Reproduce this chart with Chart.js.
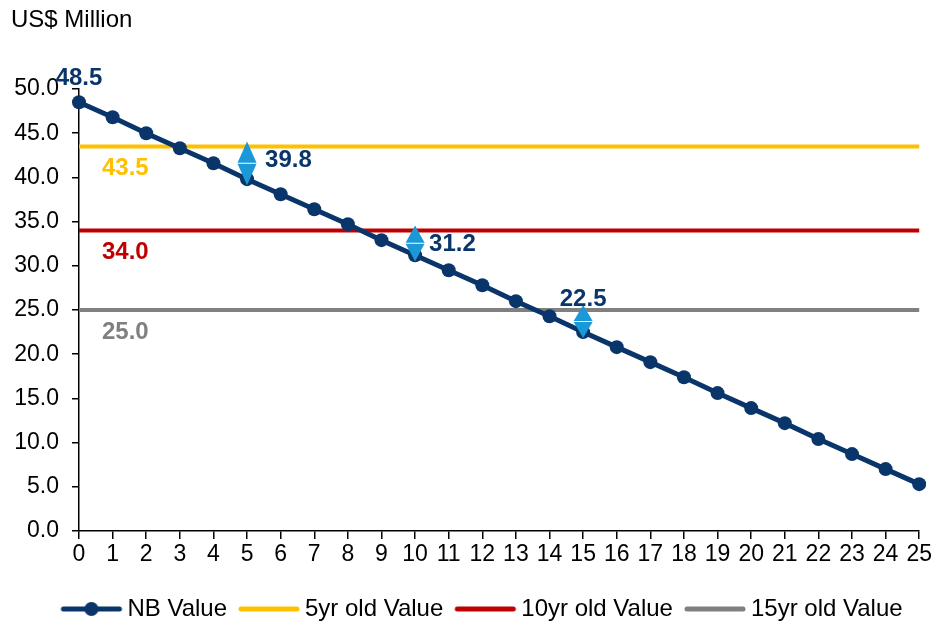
<!DOCTYPE html>
<html lang="en">
<head>
    <meta charset="UTF-8">
    <title>NB Value vs used aircraft value</title>
    <script src="https://cdn.jsdelivr.net/npm/chart.js"></script>
    <style>
        html, body { margin: 0; padding: 0; background: #fff; }
        #wrap { width: 934px; height: 621px; }
    </style>
</head>
<body>
    <div id="wrap"><canvas id="valueChart" width="934" height="621"></canvas></div>
    <script>
        // Years of age on the x axis
        const years = ['0', '1', '2', '3', '4', '5', '6', '7', '8', '9', '10', '11', '12',
            '13', '14', '15', '16', '17', '18', '19', '20', '21', '22', '23', '24', '25'];
        // New-build value declining with age (US$ million)
        const nbValue = [48.5, 46.8, 45.0, 43.3, 41.6, 39.8, 38.1, 36.4, 34.7, 32.9, 31.2, 29.5, 27.8,
            26.0, 24.3, 22.5, 20.8, 19.1, 17.4, 15.6, 13.9, 12.2, 10.4, 8.7, 7.0, 5.3];
        // Market values of used aircraft
        const usedNames = ['5yr old Value', '10yr old Value', '15yr old Value'];
        const usedValues = [43.5, 34.0, 25.0];
        const usedAges = [5, 10, 15];
        const yTicks = [0, 5, 10, 15, 20, 25, 30, 35, 40, 45, 50];

        const navy = '#0a356a';
        const usedColors = ['#ffc000', '#c00000', '#808080'];
        const arrowBlue = '#1b98d8';
        const font = '"Liberation Sans", Arial, sans-serif';

        // small legend swatches: a line, with a dot for the NB series
        function swatch(color, dot) {
            const c = document.createElement('canvas');
            c.width = 68; c.height = 16;
            const g = c.getContext('2d');
            g.strokeStyle = color;
            g.lineWidth = 5;
            g.lineCap = 'round';
            g.beginPath(); g.moveTo(6, 8); g.lineTo(62, 8); g.stroke();
            if (dot) {
                g.fillStyle = color;
                g.beginPath(); g.arc(34, 8, 7, 0, Math.PI * 2); g.fill();
            }
            return c;
        }

        const datasets = [{
            label: 'NB Value',
            data: nbValue,
            borderColor: navy,
            backgroundColor: navy,
            borderWidth: 5,
            pointRadius: 7,
            pointHoverRadius: 7,
            pointBackgroundColor: navy,
            pointBorderWidth: 0,
            tension: 0,
            order: 0,
            legendSwatch: swatch(navy, true)
        }];
        usedNames.forEach(function(name, i) {
            datasets.push({
                label: name,
                data: years.map(function() { return usedValues[i]; }),
                borderColor: usedColors[i],
                backgroundColor: usedColors[i],
                borderWidth: 4,
                pointRadius: 0,
                order: 1,
                legendSwatch: swatch(usedColors[i], false)
            });
        });

        // arrows between the used value and the NB value, plus value labels
        const annotations = {
            id: 'annotations',
            afterLayout(chart) {
                // nudge the legend row a little to the right
                if (chart.legend) {
                    chart.legend.left += 24;
                    chart.legend.right += 24;
                }
            },
            afterDatasetsDraw(chart) {
                const ctx = chart.ctx;
                const xs = chart.scales.x, ys = chart.scales.y;
                ctx.save();
                usedAges.forEach(function(age, i) {
                    const x = xs.getPixelForValue(age);
                    const top = ys.getPixelForValue(usedValues[i]) - 5;
                    const bottom = ys.getPixelForValue(nbValue[age]) + 6;
                    const mid = (top + bottom) / 2;
                    ctx.fillStyle = arrowBlue;
                    ctx.beginPath();
                    ctx.moveTo(x, top); ctx.lineTo(x + 9.5, mid - 0.5); ctx.lineTo(x - 9.5, mid - 0.5);
                    ctx.closePath(); ctx.fill();
                    ctx.beginPath();
                    ctx.moveTo(x, bottom); ctx.lineTo(x + 9.5, mid + 0.5); ctx.lineTo(x - 9.5, mid + 0.5);
                    ctx.closePath(); ctx.fill();
                });

                ctx.font = 'bold 24px ' + font;
                ctx.textBaseline = 'middle';
                // NB value labels
                ctx.fillStyle = navy;
                const px = function(i) { return xs.getPixelForValue(i); };
                const py = function(i) { return ys.getPixelForValue(nbValue[i]); };
                ctx.textAlign = 'center';
                ctx.fillText(nbValue[0].toFixed(1), px(0), py(0) - 24);
                ctx.textAlign = 'left';
                ctx.fillText(nbValue[5].toFixed(1), px(5) + 18, py(5) - 19);
                ctx.fillText(nbValue[10].toFixed(1), px(10) + 14, py(10) - 11);
                ctx.textAlign = 'center';
                ctx.fillText(nbValue[15].toFixed(1), px(15), py(15) - 33);

                // used value labels under each line
                ctx.textAlign = 'left';
                usedValues.forEach(function(v, i) {
                    ctx.fillStyle = usedColors[i];
                    ctx.fillText(v.toFixed(1), chart.chartArea.left + 23, ys.getPixelForValue(v) + 22);
                });

                // unit caption
                ctx.fillStyle = '#000';
                ctx.font = '24px ' + font;
                ctx.fillText('US$ Million', 11, 20);
                ctx.restore();
            }
        };

        new Chart(document.getElementById('valueChart'), {
            type: 'line',
            data: { labels: years, datasets: datasets },
            options: {
                responsive: false,
                animation: false,
                layout: { padding: { top: 89, right: 12, left: 0, bottom: -10 } },
                plugins: {
                    tooltip: { enabled: false },
                    legend: {
                        position: 'bottom',
                        labels: {
                            usePointStyle: true,
                            pointStyleWidth: 48,
                            padding: 18,
                            color: '#000',
                            font: { family: font, size: 24 },
                            generateLabels(chart) {
                                return chart.data.datasets.map(function(ds, i) {
                                    return {
                                        text: ds.label,
                                        datasetIndex: i,
                                        pointStyle: ds.legendSwatch,
                                        fontColor: '#000',
                                        lineWidth: 0,
                                        hidden: false
                                    };
                                });
                            }
                        }
                    }
                },
                scales: {
                    x: {
                        type: 'category',
                        offset: false,
                        border: { color: '#000', width: 1.5 },
                        grid: { drawOnChartArea: false, drawTicks: true, tickLength: 8, color: '#000', lineWidth: 1.5 },
                        ticks: { color: '#000', font: { family: font, size: 23 }, padding: 2, maxRotation: 0, autoSkip: false },
                        afterFit(scale) { scale.height = 48; }
                    },
                    y: {
                        min: 0,
                        max: 50,
                        afterBuildTicks(scale) { scale.ticks = yTicks.map(function(v) { return { value: v }; }); },
                        border: { color: '#000', width: 1.5 },
                        grid: { drawOnChartArea: false, drawTicks: true, tickLength: 7, color: '#000', lineWidth: 1.5 },
                        ticks: {
                            color: '#000',
                            font: { family: font, size: 23 },
                            padding: 13,
                            callback: function(v) { return Number(v).toFixed(1); }
                        },
                        afterFit(scale) { scale.width = 79; }
                    }
                }
            },
            plugins: [annotations]
        });
    </script>
</body>
</html>
